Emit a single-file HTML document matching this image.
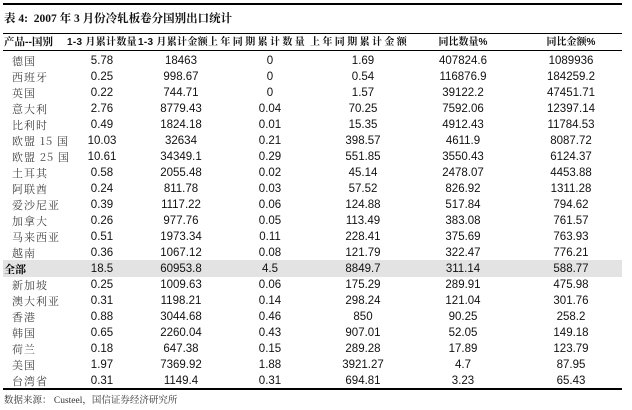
<!DOCTYPE html>
<html><head><meta charset="utf-8"><style>
body{margin:0;width:632px;height:410px;background:#fff;position:relative;overflow:hidden;font-family:"Liberation Sans","Noto Sans CJK SC",sans-serif;color:#111}
.ln{position:absolute;left:3px;width:619px;background:#000}
.t{position:absolute;white-space:nowrap}
.r{position:absolute;left:0;width:632px;height:16px;font-size:11.5px;line-height:16px}
.r span{position:absolute;text-align:center;top:0}
.r .n{left:12px;text-align:left;font-family:"Noto Serif CJK SC","WenQuanYi Zen Hei",serif;font-size:11px;color:#444;letter-spacing:1px}
.c1{left:62px;width:80px}.c2{left:142px;width:78px}.c3{left:220px;width:100px}.c4{left:320px;width:86px}.c5{left:406px;width:114px}.c6{left:520px;width:102px}
.h{position:absolute;top:36px;font-size:10px;font-weight:bold;line-height:13px;font-family:"Liberation Sans","Noto Serif CJK SC",serif;white-space:nowrap}
</style></head><body>
<div class="ln" style="top:3px;height:1.5px"></div>
<div class="t" style="left:4px;top:10px;font-size:11.5px;font-weight:bold;font-family:'Liberation Serif','Noto Serif CJK SC',serif">表 4:&nbsp; 2007 年 3 月份冷轧板卷分国别出口统计</div>
<div class="ln" style="top:33px;height:1.2px"></div>
<div class="h" style="left:4px;font-size:10.5px">产品--国别</div>
<div class="h" style="left:67px;letter-spacing:0.3px">1-3 月累计数量</div>
<div class="h" style="left:138px;letter-spacing:0.3px">1-3 月累计金额</div>
<div class="h" style="left:208px;letter-spacing:2.4px">上年同期累计数量</div>
<div class="h" style="left:310px;letter-spacing:2.4px">上年同期累计金额</div>
<div class="h" style="left:406px;width:114px;text-align:center">同比数量%</div>
<div class="h" style="left:520px;width:102px;text-align:center">同比金额%</div>
<div class="ln" style="top:50px;height:1.2px"></div>

<div class="r" style="top:53px"><span class="n">德国</span><span class="c1">5.78</span><span class="c2">18463</span><span class="c3">0</span><span class="c4">1.69</span><span class="c5">407824.6</span><span class="c6">1089936</span></div>
<div class="r" style="top:69px"><span class="n">西班牙</span><span class="c1">0.25</span><span class="c2">998.67</span><span class="c3">0</span><span class="c4">0.54</span><span class="c5">116876.9</span><span class="c6">184259.2</span></div>
<div class="r" style="top:85px"><span class="n">英国</span><span class="c1">0.22</span><span class="c2">744.71</span><span class="c3">0</span><span class="c4">1.57</span><span class="c5">39122.2</span><span class="c6">47451.71</span></div>
<div class="r" style="top:101px"><span class="n">意大利</span><span class="c1">2.76</span><span class="c2">8779.43</span><span class="c3">0.04</span><span class="c4">70.25</span><span class="c5">7592.06</span><span class="c6">12397.14</span></div>
<div class="r" style="top:117px"><span class="n">比利时</span><span class="c1">0.49</span><span class="c2">1824.18</span><span class="c3">0.01</span><span class="c4">15.35</span><span class="c5">4912.43</span><span class="c6">11784.53</span></div>
<div class="r" style="top:133px"><span class="n">欧盟 15 国</span><span class="c1">10.03</span><span class="c2">32634</span><span class="c3">0.21</span><span class="c4">398.57</span><span class="c5">4611.9</span><span class="c6">8087.72</span></div>
<div class="r" style="top:149px"><span class="n">欧盟 25 国</span><span class="c1">10.61</span><span class="c2">34349.1</span><span class="c3">0.29</span><span class="c4">551.85</span><span class="c5">3550.43</span><span class="c6">6124.37</span></div>
<div class="r" style="top:165px"><span class="n">土耳其</span><span class="c1">0.58</span><span class="c2">2055.48</span><span class="c3">0.02</span><span class="c4">45.14</span><span class="c5">2478.07</span><span class="c6">4453.88</span></div>
<div class="r" style="top:181px"><span class="n">阿联酋</span><span class="c1">0.24</span><span class="c2">811.78</span><span class="c3">0.03</span><span class="c4">57.52</span><span class="c5">826.92</span><span class="c6">1311.28</span></div>
<div class="r" style="top:197px"><span class="n">爱沙尼亚</span><span class="c1">0.39</span><span class="c2">1117.22</span><span class="c3">0.06</span><span class="c4">124.88</span><span class="c5">517.84</span><span class="c6">794.62</span></div>
<div class="r" style="top:213px"><span class="n">加拿大</span><span class="c1">0.26</span><span class="c2">977.76</span><span class="c3">0.05</span><span class="c4">113.49</span><span class="c5">383.08</span><span class="c6">761.57</span></div>
<div class="r" style="top:229px"><span class="n">马来西亚</span><span class="c1">0.51</span><span class="c2">1973.34</span><span class="c3">0.11</span><span class="c4">228.41</span><span class="c5">375.69</span><span class="c6">763.93</span></div>
<div class="r" style="top:245px"><span class="n">越南</span><span class="c1">0.36</span><span class="c2">1067.12</span><span class="c3">0.08</span><span class="c4">121.79</span><span class="c5">322.47</span><span class="c6">776.21</span></div>
<div style="position:absolute;left:3px;top:260px;width:619px;height:17px;background:#e3e3e3"></div>
<div class="r" style="top:261px"><span class="n" style="left:4px;font-weight:bold;color:#000;letter-spacing:0">全部</span><span class="c1">18.5</span><span class="c2">60953.8</span><span class="c3">4.5</span><span class="c4">8849.7</span><span class="c5">311.14</span><span class="c6">588.77</span></div>
<div class="r" style="top:277px"><span class="n">新加坡</span><span class="c1">0.25</span><span class="c2">1009.63</span><span class="c3">0.06</span><span class="c4">175.29</span><span class="c5">289.91</span><span class="c6">475.98</span></div>
<div class="r" style="top:293px"><span class="n">澳大利亚</span><span class="c1">0.31</span><span class="c2">1198.21</span><span class="c3">0.14</span><span class="c4">298.24</span><span class="c5">121.04</span><span class="c6">301.76</span></div>
<div class="r" style="top:309px"><span class="n">香港</span><span class="c1">0.88</span><span class="c2">3044.68</span><span class="c3">0.46</span><span class="c4">850</span><span class="c5">90.25</span><span class="c6">258.2</span></div>
<div class="r" style="top:325px"><span class="n">韩国</span><span class="c1">0.65</span><span class="c2">2260.04</span><span class="c3">0.43</span><span class="c4">907.01</span><span class="c5">52.05</span><span class="c6">149.18</span></div>
<div class="r" style="top:341px"><span class="n">荷兰</span><span class="c1">0.18</span><span class="c2">647.38</span><span class="c3">0.15</span><span class="c4">289.28</span><span class="c5">17.89</span><span class="c6">123.79</span></div>
<div class="r" style="top:357px"><span class="n">美国</span><span class="c1">1.97</span><span class="c2">7369.92</span><span class="c3">1.88</span><span class="c4">3921.27</span><span class="c5">4.7</span><span class="c6">87.95</span></div>
<div class="r" style="top:373px"><span class="n">台湾省</span><span class="c1">0.31</span><span class="c2">1149.4</span><span class="c3">0.31</span><span class="c4">694.81</span><span class="c5">3.23</span><span class="c6">65.43</span></div>
<div class="ln" style="top:388px;height:1.5px"></div>
<div class="t" style="left:4px;top:392px;font-size:9.5px;color:#333;font-family:'Liberation Serif','Noto Serif CJK SC',serif">数据来源：&nbsp;Custeel，国信证券经济研究所</div>
</body></html>
